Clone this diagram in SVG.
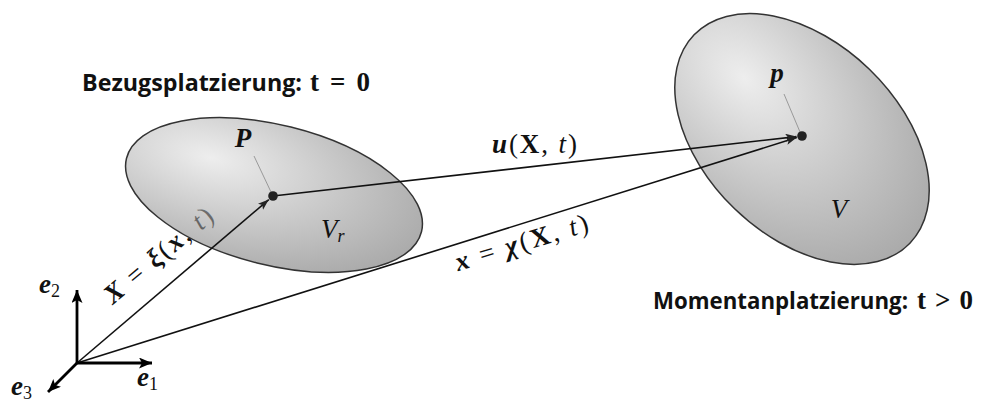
<svg xmlns="http://www.w3.org/2000/svg" width="986" height="403" viewBox="0 0 986 403">
<style>
.title{font-family:"Open Sans","Noto Sans",sans-serif;font-weight:bold;font-size:23px;fill:#111}
.m{font-family:"Liberation Serif","Times New Roman",serif;font-size:27px;fill:#111}
.bi{font-weight:bold;font-style:italic}
.b{font-weight:bold}
.i{font-style:italic}
.sub{font-style:normal;font-weight:normal;font-size:18px}
.body{stroke:#333;stroke-width:1.5}
.vec{stroke:#111;stroke-width:1.6;fill:none}
.axis{stroke:#000;stroke-width:2.8;fill:none}
.lead{stroke:#888;stroke-width:0.8}
.dot{fill:#222}
</style>
<defs>
<radialGradient id="gL" cx="0.27" cy="0.35" fx="0.27" fy="0.35" r="0.8">
<stop offset="0" stop-color="#e2e2e2"/>
<stop offset="1" stop-color="#6e6e6e"/>
</radialGradient>
<radialGradient id="gR" cx="0.22" cy="0.48" fx="0.22" fy="0.48" r="0.85">
<stop offset="0" stop-color="#e2e2e2"/>
<stop offset="1" stop-color="#686868"/>
</radialGradient>
<marker id="ah" markerUnits="userSpaceOnUse" markerWidth="12" markerHeight="9" refX="11" refY="4" orient="auto">
<path d="M0,0 L11,4 L0,8 L2.5,4 Z" fill="#222"/>
</marker>
<marker id="ax" markerUnits="userSpaceOnUse" markerWidth="14" markerHeight="12" refX="13" refY="5.5" orient="auto">
<path d="M0,0 L13,5.5 L0,11 L3,5.5 Z" fill="#000"/>
</marker>
</defs>

<g id="label-X">
<text class="m" transform="translate(164,262) rotate(-40)" text-anchor="middle" textLength="134" lengthAdjust="spacing"><tspan class="bi">X</tspan> = <tspan class="bi">ξ</tspan>(<tspan class="bi">x</tspan>, <tspan class="i">t</tspan>)</text>
</g>

<g id="reference-body">
<ellipse class="body" cx="0" cy="0" rx="152" ry="70" transform="translate(274,195) rotate(14)" fill="url(#gL)" fill-opacity="0.6"/>
<text class="m i" x="321" y="238">V<tspan font-size="18" dy="4">r</tspan></text>
</g>

<g id="current-body">
<ellipse class="body" cx="0" cy="0" rx="150" ry="97" transform="translate(802,139) rotate(44)" fill="url(#gR)" fill-opacity="0.6"/>
<text class="m i" x="839" y="218" text-anchor="middle">V</text>
</g>

<g id="title-ref">
<text class="title" x="82" y="91" textLength="220" lengthAdjust="spacingAndGlyphs">Bezugsplatzierung:</text>
<text class="m b" x="310" y="91" textLength="60" lengthAdjust="spacing">t = 0</text>
</g>
<g id="title-cur">
<text class="title" x="653" y="309" textLength="255" lengthAdjust="spacingAndGlyphs">Momentanplatzierung:</text>
<text class="m b" x="917" y="309" textLength="56" lengthAdjust="spacing">t &gt; 0</text>
</g>

<g id="connectors">
<line class="vec" x1="77" y1="363" x2="268.8" y2="199.6" marker-end="url(#ah)"/>
<line class="vec" x1="77" y1="363" x2="796.8" y2="137.6" marker-end="url(#ah)"/>
<line class="vec" x1="273" y1="196" x2="796.5" y2="136.6" marker-end="url(#ah)"/>
<line class="lead" x1="254" y1="156" x2="271" y2="192"/>
<line class="lead" x1="784" y1="94" x2="800" y2="132"/>
<line class="axis" x1="77" y1="364" x2="77" y2="290" marker-end="url(#ax)"/>
<line class="axis" x1="76" y1="363" x2="152" y2="363" marker-end="url(#ax)"/>
<line class="axis" x1="77" y1="363" x2="48" y2="392" marker-end="url(#ax)"/>
</g>

<g id="point-P">
<circle class="dot" cx="273" cy="196" r="4.8"/>
<text class="m bi" x="243" y="147" text-anchor="middle">P</text>
</g>
<g id="point-p">
<circle class="dot" cx="802" cy="136" r="4.8"/>
<text class="m bi" x="777" y="82" text-anchor="middle">p</text>
</g>

<g id="label-u">
<text class="m" x="492" y="153" textLength="85" lengthAdjust="spacing"><tspan class="bi">u</tspan>(<tspan class="b">X</tspan>, <tspan class="i">t</tspan>)</text>
</g>
<g id="label-x">
<text class="m" transform="translate(524,251) rotate(-17)" text-anchor="middle" textLength="138" lengthAdjust="spacing"><tspan class="bi">x</tspan> = <tspan class="bi">χ</tspan>(<tspan class="b">X</tspan>, <tspan class="i">t</tspan>)</text>
</g>

<g id="axes-labels">
<text class="m bi" x="39" y="293" font-size="29">e<tspan class="sub" dy="4">2</tspan></text>
<text class="m bi" x="137" y="386" font-size="29">e<tspan class="sub" dy="4">1</tspan></text>
<text class="m bi" x="11" y="395" font-size="29">e<tspan class="sub" dy="4">3</tspan></text>
</g>
</svg>
